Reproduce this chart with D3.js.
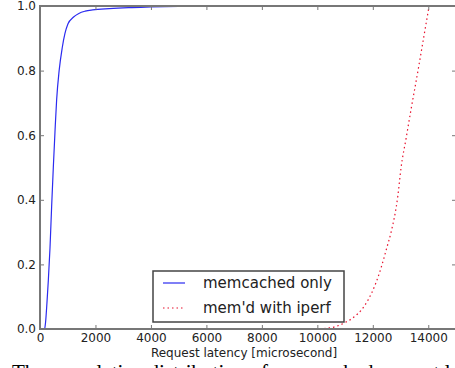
<!DOCTYPE html>
<html>
<head>
<meta charset="utf-8">
<script src="https://cdn.jsdelivr.net/npm/d3@7"></script>
<style>
  html, body { margin: 0; padding: 0; background: #fff; }
  svg { display: block; }
  .tick text { font-family: "DejaVu Sans", sans-serif; font-size: 12px; fill: #222; }
</style>
</head>
<body>
<div id="chart"></div>
<script>
// memcached only: [latency us, cdf]
const memcachedOnly = [
  [170, 0], [200, 0.02], [250, 0.08], [300, 0.15], [360, 0.25], [420, 0.38],
  [480, 0.5], [540, 0.61], [600, 0.71], [690, 0.8], [800, 0.87], [900, 0.915],
  [1010, 0.945], [1200, 0.965], [1400, 0.977], [1630, 0.984], [1900, 0.988],
  [2500, 0.992], [3200, 0.995], [4000, 0.997], [5000, 0.999], [6100, 1.0]
];
// mem'd with iperf
const withIperf = [
  [5700, 0], [10000, 0], [10400, 0.003], [10600, 0.006], [11000, 0.02],
  [11320, 0.037], [11600, 0.06], [11830, 0.09], [12100, 0.14], [12300, 0.19],
  [12500, 0.25], [12660, 0.3], [12900, 0.41], [13020, 0.5], [13200, 0.59],
  [13400, 0.69], [13630, 0.8], [13830, 0.9], [14030, 1.0]
];
const xTicks = [0, 2000, 4000, 6000, 8000, 10000, 12000, 14000];
const yTicks = [0, 0.2, 0.4, 0.6, 0.8, 1.0];
const legendLabels = ["memcached only", "mem'd with iperf"];

const W = 455, H = 368;
const mLeft = 40, mRight = 456, mTop = 6, mBottom = 329;

const svg = d3.select("#chart").append("svg").attr("width", W).attr("height", H);

const x = d3.scaleLinear().domain([0, 15000]).range([mLeft, mRight]);
const y = d3.scaleLinear().domain([0, 1]).range([mBottom, mTop]);

const line = d3.line()
  .x(d => x(d[0]))
  .y(d => y(d[1]))
  .curve(d3.curveMonotoneX);

// curves
svg.append("path").datum(memcachedOnly)
  .attr("d", line).attr("fill", "none")
  .attr("stroke", "#2b2bf0").attr("stroke-width", 1.2);

svg.append("path").datum(withIperf)
  .attr("d", line).attr("fill", "none")
  .attr("stroke", "#e8102c").attr("stroke-width", 1.2)
  .attr("stroke-dasharray", "1.5,3");

// axes (inward ticks)
function styleAxis(g) {
  g.select(".domain").remove();
  g.selectAll(".tick line").attr("stroke", "#777");
}

svg.append("g").attr("transform", `translate(0,${mBottom})`)
  .call(d3.axisBottom(x).tickValues(xTicks).tickSize(-4).tickPadding(4.5).tickFormat(d3.format("d")))
  .call(styleAxis);

svg.append("g").attr("transform", `translate(0,${mTop})`)
  .call(d3.axisTop(x).tickValues(xTicks).tickSize(-4).tickFormat(""))
  .call(styleAxis);

svg.append("g").attr("transform", `translate(${mLeft},0)`)
  .call(d3.axisLeft(y).tickValues(yTicks).tickSize(-4).tickPadding(4).tickFormat(d3.format(".1f")))
  .call(styleAxis);

svg.append("g").attr("transform", `translate(${mRight},0)`)
  .call(d3.axisRight(y).tickValues(yTicks).tickSize(-4).tickFormat(""))
  .call(styleAxis);

svg.selectAll(".tick text").attr("fill", "#222");

// spines
svg.append("rect")
  .attr("x", mLeft).attr("y", mTop)
  .attr("width", mRight - mLeft).attr("height", mBottom - mTop)
  .attr("fill", "none").attr("stroke", "#777").attr("stroke-width", 2);

// x label
svg.append("text")
  .attr("x", 244).attr("y", 357)
  .attr("text-anchor", "middle")
  .attr("font-family", "DejaVu Sans, sans-serif").attr("font-size", 12)
  .attr("fill", "#222")
  .text("Request latency [microsecond]");

// legend
const lg = svg.append("g").attr("transform", "translate(153,271)");
lg.append("rect").attr("width", 191).attr("height", 51)
  .attr("fill", "#fff").attr("stroke", "#444").attr("stroke-width", 1.5);
const styles = [
  { color: "#2b2bf0", dash: null },
  { color: "#e8102c", dash: "1.5,3" }
];
legendLabels.forEach((lab, i) => {
  const yy = 12 + i * 25;
  lg.append("line").attr("x1", 10).attr("x2", 32).attr("y1", yy).attr("y2", yy)
    .attr("stroke", styles[i].color).attr("stroke-width", 1.2)
    .attr("stroke-dasharray", styles[i].dash);
  lg.append("text").attr("x", 50).attr("y", yy).attr("dy", "0.35em")
    .attr("font-family", "DejaVu Sans, sans-serif").attr("font-size", 15)
    .attr("fill", "#222").text(lab);
});

// caption (cut off at bottom)
svg.append("text")
  .attr("x", 12).attr("y", 379)
  .attr("font-family", "Liberation Serif, serif").attr("font-size", 21)
  .attr("fill", "#000")
  .text("The cumulative distribution of memcached request latency");
</script>
</body>
</html>
